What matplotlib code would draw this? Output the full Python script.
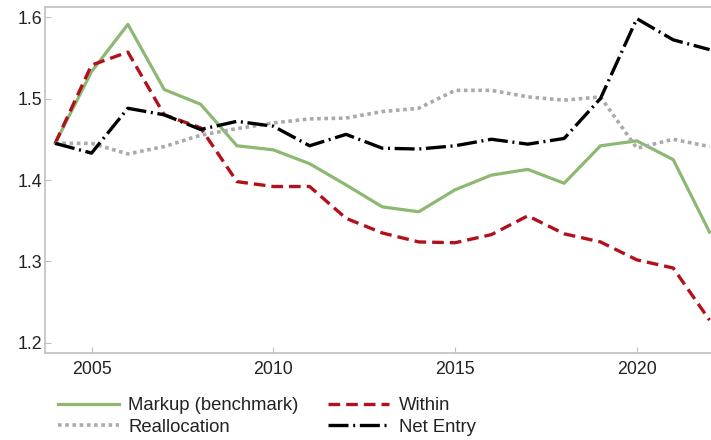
import matplotlib
matplotlib.use('Agg')
import matplotlib.pyplot as plt

plt.rcParams['font.family'] = ['Liberation Sans', 'DejaVu Sans']

years = list(range(2004, 2023))
markup = [1.445, 1.533, 1.591, 1.511, 1.493, 1.442, 1.437, 1.420, 1.394, 1.367,
          1.361, 1.388, 1.406, 1.413, 1.396, 1.442, 1.448, 1.425, 1.336]
within = [1.445, 1.541, 1.557, 1.480, 1.464, 1.398, 1.392, 1.392, 1.353, 1.335,
          1.324, 1.323, 1.333, 1.356, 1.334, 1.324, 1.302, 1.292, 1.228]
realloc = [1.445, 1.445, 1.432, 1.441, 1.455, 1.463, 1.470, 1.475, 1.476, 1.484,
           1.488, 1.510, 1.510, 1.502, 1.498, 1.502, 1.439, 1.450, 1.441]
net_entry = [1.445, 1.433, 1.488, 1.480, 1.462, 1.472, 1.466, 1.442, 1.456, 1.439,
             1.438, 1.442, 1.450, 1.444, 1.451, 1.500, 1.598, 1.572, 1.560]

fig = plt.figure(figsize=(7.11, 4.40), dpi=100)
ax = fig.add_axes([45/711, 1-353/440, 1-45/711, (353-7)/440])

ax.plot(years, markup, color='#8db872', lw=2.3, label='Markup (benchmark)')
ax.plot(years, within, color='#b2111c', lw=2.4, dashes=(3.5, 1.8), label='Within')
ax.plot(years, realloc, color='#aaaaaa', lw=2.6, dashes=(1, 1), label='Reallocation')
ax.plot(years, net_entry, color='black', lw=2.4, dashes=(6, 1.4, 0.6, 1.4), label='Net Entry')

ax.set_xlim(2003.72, 2022.04)
ax.set_ylim(1.1877, 1.6123)
ax.set_xticks([2005, 2010, 2015, 2020])
ax.set_yticks([1.2, 1.3, 1.4, 1.5, 1.6])
ax.set_yticklabels(['1.2', '1.3', '1.4', '1.5', '1.6'])

for s in ['left', 'bottom', 'top']:
    ax.spines[s].set_color('#c0c0c0')
    ax.spines[s].set_linewidth(1.2)
ax.spines['right'].set_visible(False)
ax.tick_params(direction='in', length=4, color='#c0c0c0', labelsize=12.8, labelcolor='#222222')
ax.tick_params(axis='x', pad=6)
ax.tick_params(axis='y', pad=2)

handles, labels = ax.get_legend_handles_labels()
order = [0, 2, 1, 3]
fig.legend([handles[i] for i in order], [labels[i] for i in order], ncol=2,
           loc='upper left', bbox_to_anchor=(49/711, 1-388/440), frameon=False,
           borderpad=0, fontsize=13.3, handlelength=3.3, columnspacing=1.6,
           labelspacing=0.25, handletextpad=0.5, labelcolor='#222222')

fig.savefig('out.png', dpi=100)
